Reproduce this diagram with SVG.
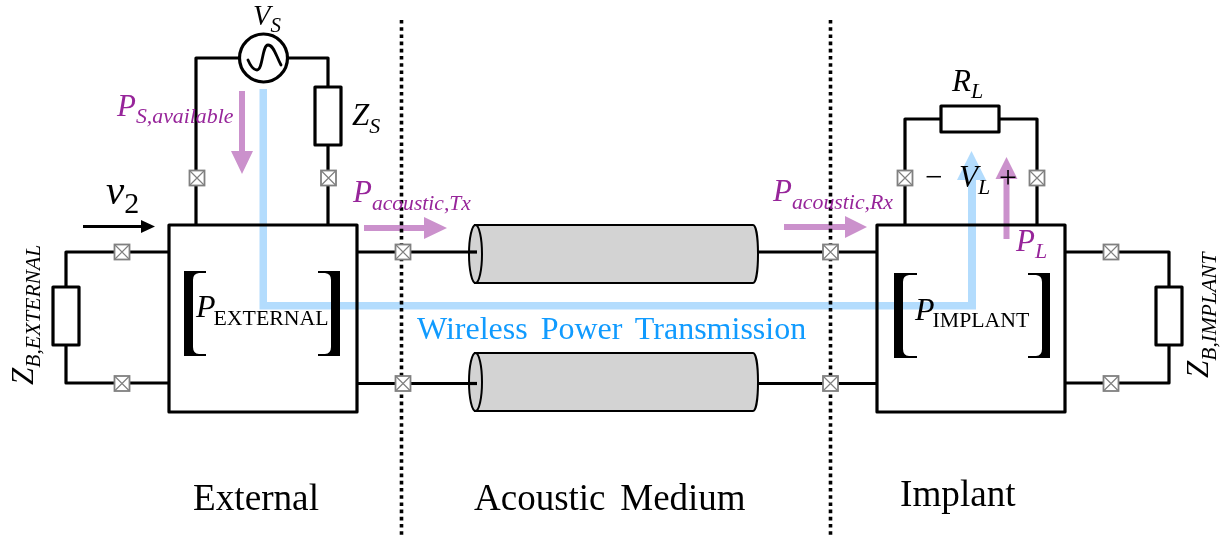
<svg xmlns="http://www.w3.org/2000/svg" width="1223" height="537" viewBox="0 0 1223 537">
<style>
text{font-family:"Liberation Serif","Times New Roman",serif;fill:#000}
.i{font-style:italic}
.p{fill:#97259a}
.w{fill:none;stroke:#000;stroke-width:3.2;stroke-linejoin:round;stroke-linecap:round}
.b{fill:#fff;stroke:#000;stroke-width:3.2;stroke-linejoin:round}
.d{stroke:#000;stroke-width:3.6;stroke-dasharray:3.6 3.6;fill:none}
.a{fill:#cb91cc}
.cyl{fill:#d3d3d3;stroke:#000;stroke-width:2}
</style>
<defs>
<g id="x"><rect x="-7.500" y="-7.500" width="15" height="15" fill="#fff" stroke="#808080" stroke-width="1.800"/><path d="M-7-7L7 7M7-7L-7 7" stroke="#808080" stroke-width="1.200"/></g>
<g id="cy"><path class="cyl" d="M475 0H753C756 0 758 13 758 29C758 45 756 58 753 58H475Z"/><ellipse class="cyl" cx="475.500" cy="29" rx="6.500" ry="29"/></g>
</defs>
<g id="dividers"><path class="d" d="M401.500 20V537"/><path class="d" d="M830.500 20V537"/></g>
<g id="connectors">
<path class="w" d="M169 252H66V383H169"/>
<path class="w" d="M196 225V58H240M287 58H328V87M328 145V225"/>
<path class="w" d="M357 252H470M357 383.500H470"/>
<path class="w" d="M757 252H877M757 383.500H877"/>
<path class="w" d="M905 225V119H941M999 119H1037V225"/>
<path class="w" d="M1065 252H1169V383H1065"/>
</g>
<g id="cylinder-top"><use href="#cy" y="225"/><path d="M469 252H477" stroke="#000" stroke-width="3.200"/></g>
<g id="cylinder-bottom"><use href="#cy" y="353"/><path d="M469 383.500H477" stroke="#000" stroke-width="3.200"/></g>
<g id="external"><rect class="b" x="169" y="225" width="188" height="187"/>
<path d="M184 271H206V273H199Q193 273.500 193 280V347Q193 353.500 199 354H206V356H184Z"/>
<path d="M340 271H318V273H325Q331 273.500 331 280V347Q331 353.500 325 354H318V356H340Z"/>
</g>
<g id="implant"><rect class="b" x="877" y="225" width="188" height="187"/>
<path d="M894 273H917V275H909Q903 275.500 903 282V349Q903 355.500 909 356H917V358H894Z"/>
<path d="M1050 273H1028V275H1036Q1042 275.500 1042 282V349Q1042 355.500 1036 356H1028V358H1050Z"/>
</g>
<g id="source"><circle cx="263.500" cy="58" r="24" fill="#fff" stroke="#000" stroke-width="3.200"/><path d="M248 60C251 67 254 70 257 70C263 70 262 45 268 45C274 45 276 56 281 65" fill="none" stroke="#000" stroke-width="2.800" stroke-linecap="round"/></g>
<g id="zs"><rect class="b" x="315" y="87" width="26" height="58"/></g>
<g id="rl"><rect class="b" x="941" y="106" width="58" height="26"/></g>
<g id="zb-ext"><rect class="b" x="53" y="287" width="26" height="58"/></g>
<g id="zb-imp"><rect class="b" x="1156" y="287" width="26" height="58"/></g>
<g id="ports">
<use href="#x" x="197" y="178"/><use href="#x" x="328.500" y="178"/>
<use href="#x" x="122" y="252"/><use href="#x" x="122" y="383.500"/>
<use href="#x" x="403" y="252"/><use href="#x" x="403" y="383.500"/>
<use href="#x" x="830.500" y="252"/><use href="#x" x="830.500" y="383.500"/>
<use href="#x" x="905" y="178"/><use href="#x" x="1037" y="178"/>
<use href="#x" x="1111" y="252"/><use href="#x" x="1111" y="383.500"/>
</g>
<g id="power-flow" style="mix-blend-mode:multiply">
<path d="M259.500 89H267V302H968V180H957L971.500 151L986 180H976V309.500H259.500Z" fill="#b3dcfd"/>
</g>
<g id="power-arrows" style="mix-blend-mode:multiply">
<path class="a" d="M239 91H245V151H253L242 174L231 151H239Z"/>
<path class="a" d="M364 225H424V217L447 228L424 239V231H364Z"/>
<path class="a" d="M784 224H845V216L867 227L845 238V230H784Z"/>
<path class="a" d="M1003.500 239H1009.500V179H1017.500L1006.500 157L995.500 179H1003.500Z"/>
</g>
<g id="v2-arrow"><path d="M83 226.500H142" stroke="#000" stroke-width="3"/><path d="M141 220L155 226.500L141 233Z"/></g>
<g id="labels">
<text x="253" y="25" font-size="28.500" class="i">V<tspan font-size="21" dy="7">S</tspan></text>
<text x="117" y="116" font-size="31" class="i p">P<tspan font-size="21.800" dy="7">S,available</tspan></text>
<text x="352" y="125" font-size="31" class="i">Z<tspan font-size="22" dy="8">S</tspan></text>
<text x="106" y="204" font-size="41" class="i">v<tspan font-size="30" font-style="normal" dy="9">2</tspan></text>
<text x="353" y="202" font-size="31" class="i p">P<tspan font-size="21.600" dy="8">acoustic,Tx</tspan></text>
<text x="773" y="201" font-size="31" class="i p">P<tspan font-size="21.800" dy="8">acoustic,Rx</tspan></text>
<text x="952" y="91" font-size="31" class="i">R<tspan font-size="22" dy="7">L</tspan></text>
<text x="925" y="187" font-size="31">−</text>
<text x="959" y="187" font-size="31" class="i">V<tspan font-size="22" dy="7">L</tspan></text>
<text x="999" y="188" font-size="32">+</text>
<text x="1016" y="251" font-size="31" class="i p">P<tspan font-size="22" dy="7">L</tspan></text>
<text x="196" y="317" font-size="32" class="i">P<tspan font-size="21.800" font-style="normal" dx="-2" dy="8">EXTERNAL</tspan></text>
<text x="915" y="320" font-size="32" class="i">P<tspan font-size="21.800" font-style="normal" dx="-2" dy="7">IMPLANT</tspan></text>
<text x="417" y="339" font-size="32" style="fill:#109bff;word-spacing:5px">Wireless Power Transmission</text>
<text x="193" y="510" font-size="37.200">External</text>
<text x="474" y="510" font-size="37" style="word-spacing:5.500px">Acoustic Medium</text>
<text x="900" y="506" font-size="37.200">Implant</text>
<text transform="translate(33 385) rotate(-90)" font-size="31" class="i">Z<tspan font-size="21.600" dy="7">B,EXTERNAL</tspan></text>
<text transform="translate(1208 378) rotate(-90)" font-size="31" class="i">Z<tspan font-size="21.500" dy="8">B,IMPLANT</tspan></text>
</g>
</svg>
